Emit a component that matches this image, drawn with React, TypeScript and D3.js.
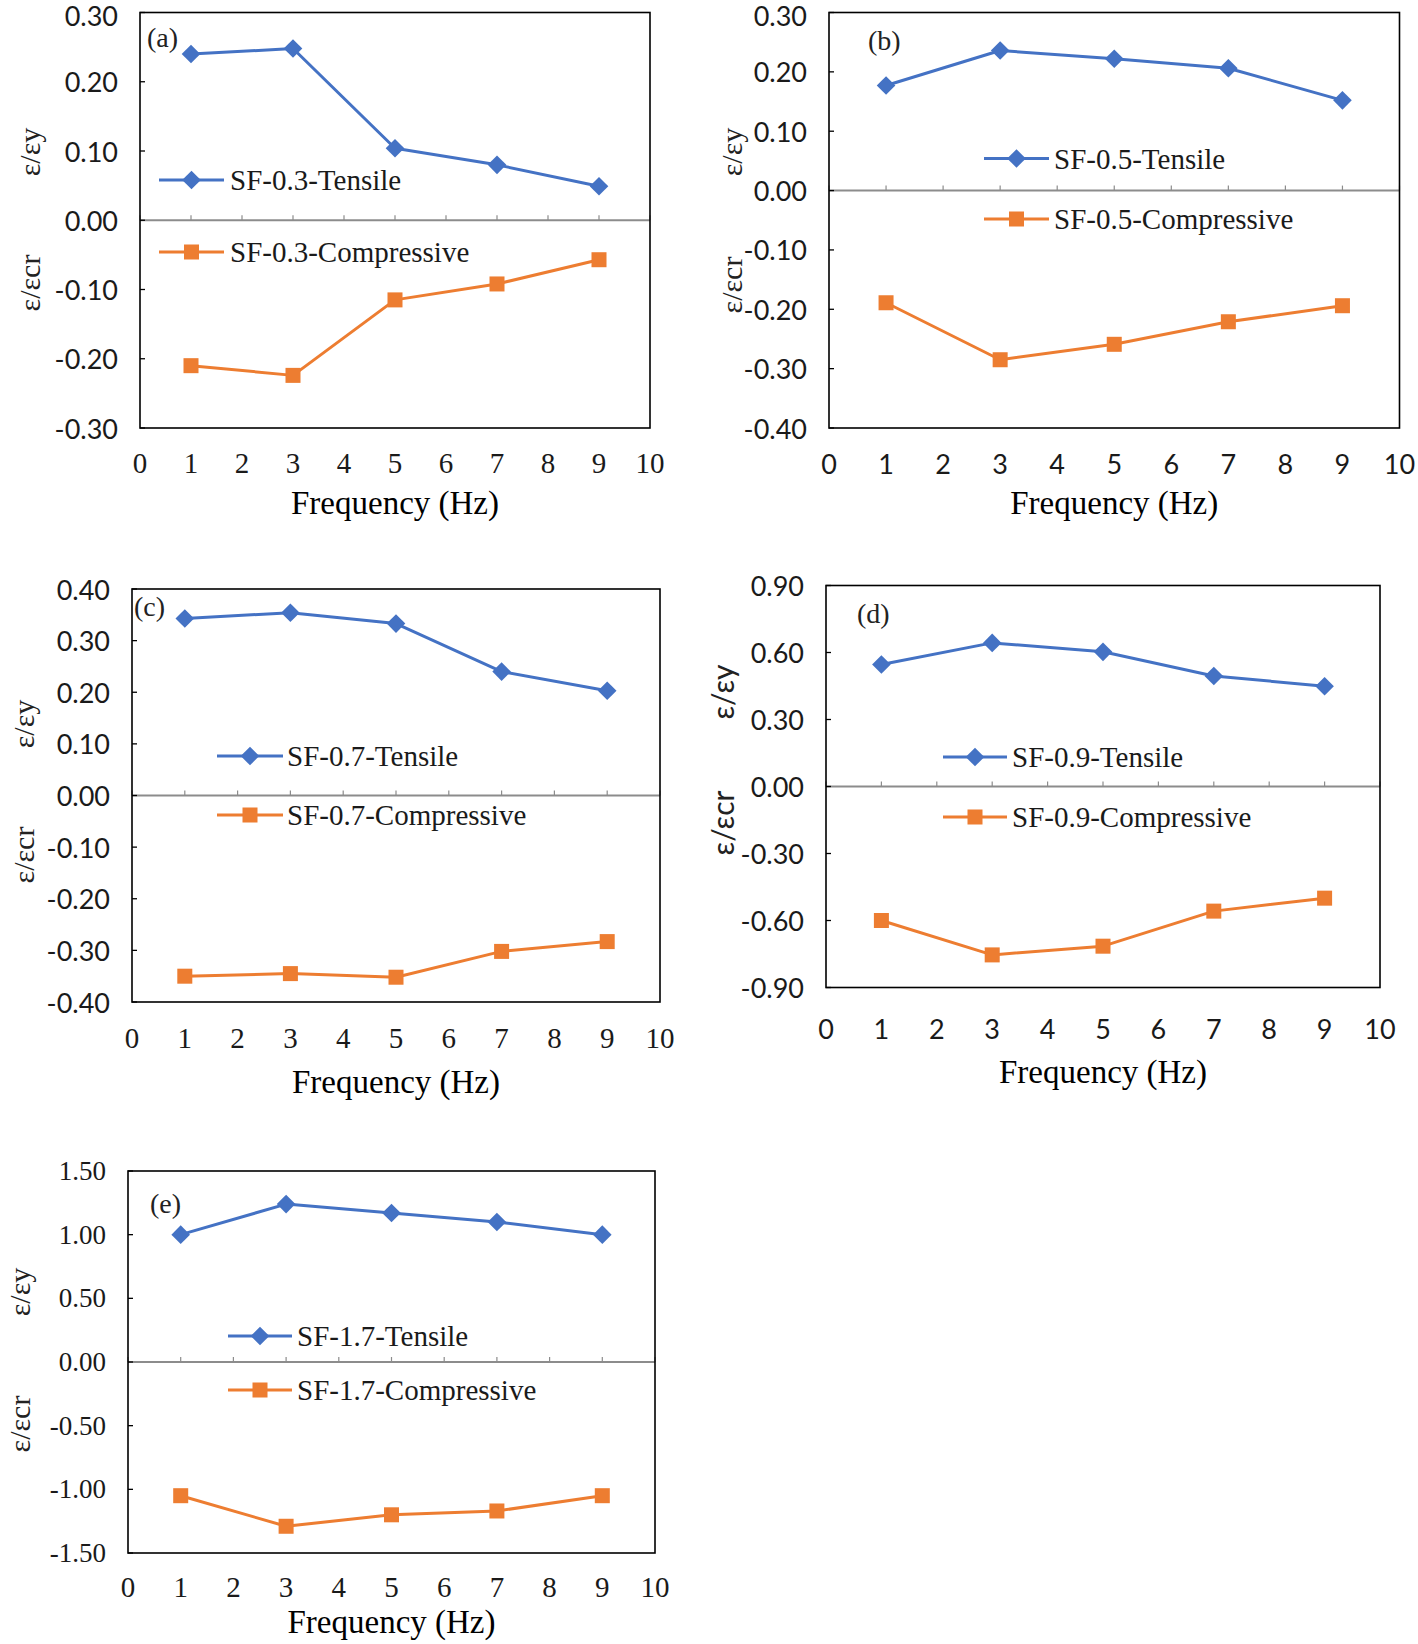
import React from "react";
import * as d3 from "d3";

// ---------- data ----------
const frequencies = [1, 3, 5, 7, 9];
const xTickValues = [0, 1, 2, 3, 4, 5, 6, 7, 8, 9, 10];

const tensileA = [0.24, 0.248, 0.104, 0.08, 0.049];
const compressiveA = [-0.21, -0.224, -0.115, -0.092, -0.057];
const tensileB = [0.177, 0.236, 0.222, 0.206, 0.152];
const compressiveB = [-0.189, -0.285, -0.259, -0.221, -0.194];
const tensileC = [0.343, 0.354, 0.333, 0.24, 0.203];
const compressiveC = [-0.35, -0.345, -0.352, -0.302, -0.283];
const tensileD = [0.546, 0.643, 0.603, 0.495, 0.449];
const compressiveD = [-0.6, -0.754, -0.715, -0.558, -0.5];
const tensileE = [1.0, 1.24, 1.17, 1.1, 1.0];
const compressiveE = [-1.05, -1.29, -1.2, -1.17, -1.05];

const yTicksA = [0.3, 0.2, 0.1, 0, -0.1, -0.2, -0.3];
const yTicksB = [0.3, 0.2, 0.1, 0, -0.1, -0.2, -0.3, -0.4];
const yTicksC = [0.4, 0.3, 0.2, 0.1, 0, -0.1, -0.2, -0.3, -0.4];
const yTicksD = [0.9, 0.6, 0.3, 0, -0.3, -0.6, -0.9];
const yTicksE = [1.5, 1.0, 0.5, 0, -0.5, -1.0, -1.5];

const panelTags = ["(a)", "(b)", "(c)", "(d)", "(e)"];
const seriesNamesTensile = ["SF-0.3-Tensile", "SF-0.5-Tensile", "SF-0.7-Tensile", "SF-0.9-Tensile", "SF-1.7-Tensile"];
const seriesNamesCompressive = [
  "SF-0.3-Compressive",
  "SF-0.5-Compressive",
  "SF-0.7-Compressive",
  "SF-0.9-Compressive",
  "SF-1.7-Compressive",
];
const xAxisTitle = "Frequency (Hz)";
const yTitleTop = "ε/εy";
const yTitleBottom = "ε/εcr";

// ---------- layout ----------
const SERIF = "'Liberation Serif', 'Times New Roman', serif";
const SANS = "Lato, 'Open Sans', sans-serif";
const BLUE = "#4472C4";
const ORANGE = "#ED7D31";

type Layout = {
  left: number;
  right: number;
  top: number;
  bottom: number;
  yLabelX: number;
  yTopLabelY: number;
  yBotLabelY: number;
  xTickY: number;
  xTitleY: number;
  tagX: number;
  tagY: number;
  legX0: number;
  legX1: number;
  legTextX: number;
  legY1: number;
  legY2: number;
  yFont: string;
  xFont: string;
  titleFont: string;
};

const layouts: Layout[] = [
  { left: 140, right: 650, top: 12.5, bottom: 428, yLabelX: 29, yTopLabelY: 152, yBotLabelY: 283, xTickY: 463, xTitleY: 503, tagX: 147, tagY: 37, legX0: 159, legX1: 224, legTextX: 230, legY1: 180, legY2: 252, yFont: SANS, xFont: SERIF, titleFont: SERIF },
  { left: 829, right: 1399.5, top: 12.5, bottom: 428, yLabelX: 731, yTopLabelY: 152, yBotLabelY: 285, xTickY: 463, xTitleY: 503, tagX: 868, tagY: 40, legX0: 984, legX1: 1049, legTextX: 1054, legY1: 158.5, legY2: 219, yFont: SANS, xFont: SANS, titleFont: SERIF },
  { left: 132, right: 660, top: 589, bottom: 1002, yLabelX: 23, yTopLabelY: 724, yBotLabelY: 855, xTickY: 1038, xTitleY: 1082, tagX: 134, tagY: 606, legX0: 217, legX1: 283, legTextX: 287, legY1: 756, legY2: 815, yFont: SANS, xFont: SERIF, titleFont: SERIF },
  { left: 826, right: 1380, top: 585.5, bottom: 987.5, yLabelX: 722, yTopLabelY: 692, yBotLabelY: 823, xTickY: 1028, xTitleY: 1072, tagX: 857, tagY: 613, legX0: 943, legX1: 1007, legTextX: 1012, legY1: 757, legY2: 817, yFont: SANS, xFont: SANS, titleFont: SANS },
  { left: 128, right: 655, top: 1171, bottom: 1553, yLabelX: 19, yTopLabelY: 1292, yBotLabelY: 1424, xTickY: 1587, xTitleY: 1622, tagX: 150, tagY: 1203, legX0: 228, legX1: 292, legTextX: 297, legY1: 1336, legY2: 1390, yFont: SERIF, xFont: SERIF, titleFont: SERIF },
];

const tensileSets = [tensileA, tensileB, tensileC, tensileD, tensileE];
const compressiveSets = [compressiveA, compressiveB, compressiveC, compressiveD, compressiveE];
const yTickSets = [yTicksA, yTicksB, yTicksC, yTicksD, yTicksE];

const fmt = (v: number) => {
  const s = d3.format(".2f")(Math.abs(v) < 1e-9 ? 0 : v);
  return s.replace("−", "-");
};

function Diamond({ x, y, r, color }: { x: number; y: number; r: number; color: string }) {
  const sym = d3.symbol().type(d3.symbolDiamond2).size(r * r * 2)();
  return <path d={sym || ""} transform={`translate(${x},${y})`} fill={color} />;
}

function Square({ x, y, s, color }: { x: number; y: number; s: number; color: string }) {
  return <rect x={x - s / 2} y={y - s / 2} width={s} height={s} fill={color} />;
}

function Panel({ i }: { i: number }) {
  const L = layouts[i];
  const ticks = yTickSets[i];
  const yMax = d3.max(ticks) as number;
  const yMin = d3.min(ticks) as number;
  const x = d3.scaleLinear().domain([0, 10]).range([L.left, L.right]);
  const y = d3.scaleLinear().domain([yMin, yMax]).range([L.bottom, L.top]);
  const line = d3
    .line<[number, number]>()
    .x((d) => x(d[0]))
    .y((d) => y(d[1]));
  const tPts: [number, number][] = frequencies.map((f, k) => [f, tensileSets[i][k]]);
  const cPts: [number, number][] = frequencies.map((f, k) => [f, compressiveSets[i][k]]);
  const y0 = y(0);
  const cx = (L.left + L.right) / 2;

  return (
    <g>
      {/* zero axis */}
      <line x1={L.left} x2={L.right} y1={y0} y2={y0} stroke="#8c8c8c" strokeWidth={2} />
      {xTickValues.map((t) => (
        <line key={"zt" + t} x1={x(t)} x2={x(t)} y1={y0} y2={y0 - 5} stroke="#8c8c8c" strokeWidth={1.2} />
      ))}
      {/* left ticks */}
      {ticks.map((t) => (
        <line key={"yt" + t} x1={L.left} x2={L.left + 5} y1={y(t)} y2={y(t)} stroke="#000" strokeWidth={1.3} />
      ))}
      {/* frame */}
      <rect x={L.left} y={L.top} width={L.right - L.left} height={L.bottom - L.top} fill="none" stroke="#000" strokeWidth={1.6} />
      {/* y tick labels */}
      {ticks.map((t) => (
        <text
          key={"yl" + t}
          x={L.left - 22}
          y={Math.max(y(t), 15)}
          textAnchor="end"
          dominantBaseline="central"
          fontFamily={L.yFont}
          fontSize={27}
          fill="#1a1a1a"
        >
          {fmt(t)}
        </text>
      ))}
      {/* x tick labels */}
      {xTickValues.map((t) => (
        <text
          key={"xl" + t}
          x={x(t)}
          y={L.xTickY}
          textAnchor="middle"
          dominantBaseline="central"
          fontFamily={L.xFont}
          fontSize={L.xFont === SERIF ? 29 : 27}
          fill="#1a1a1a"
        >
          {t}
        </text>
      ))}
      {/* x title */}
      <text x={cx} y={L.xTitleY} textAnchor="middle" dominantBaseline="central" fontFamily={SERIF} fontSize={33} fill="#000">
        {xAxisTitle}
      </text>
      {/* y titles */}
      <text
        transform={`translate(${L.yLabelX},${L.yTopLabelY}) rotate(-90)`}
        textAnchor="middle"
        dominantBaseline="central"
        fontFamily={L.titleFont}
        fontSize={30}
        fill="#222"
      >
        {yTitleTop}
      </text>
      <text
        transform={`translate(${L.yLabelX},${L.yBotLabelY}) rotate(-90)`}
        textAnchor="middle"
        dominantBaseline="central"
        fontFamily={L.titleFont}
        fontSize={30}
        fill="#222"
      >
        {yTitleBottom}
      </text>
      {/* panel tag */}
      <text x={L.tagX} y={L.tagY} dominantBaseline="central" fontFamily={SERIF} fontSize={28} fill="#222">
        {panelTags[i]}
      </text>
      {/* series */}
      <path d={line(tPts) || ""} fill="none" stroke={BLUE} strokeWidth={3} strokeLinejoin="round" />
      <path d={line(cPts) || ""} fill="none" stroke={ORANGE} strokeWidth={3} strokeLinejoin="round" />
      {tPts.map((p, k) => (
        <Diamond key={"d" + k} x={x(p[0])} y={y(p[1])} r={10.5} color={BLUE} />
      ))}
      {cPts.map((p, k) => (
        <Square key={"s" + k} x={x(p[0])} y={y(p[1])} s={15} color={ORANGE} />
      ))}
      {/* legend */}
      <line x1={L.legX0} x2={L.legX1} y1={L.legY1} y2={L.legY1} stroke={BLUE} strokeWidth={3} />
      <Diamond x={(L.legX0 + L.legX1) / 2} y={L.legY1} r={10.5} color={BLUE} />
      <text x={L.legTextX} y={L.legY1} dominantBaseline="central" fontFamily={SERIF} fontSize={29} fill="#1a1a1a">
        {seriesNamesTensile[i]}
      </text>
      <line x1={L.legX0} x2={L.legX1} y1={L.legY2} y2={L.legY2} stroke={ORANGE} strokeWidth={3} />
      <Square x={(L.legX0 + L.legX1) / 2} y={L.legY2} s={15} color={ORANGE} />
      <text x={L.legTextX} y={L.legY2} dominantBaseline="central" fontFamily={SERIF} fontSize={29} fill="#1a1a1a">
        {seriesNamesCompressive[i]}
      </text>
    </g>
  );
}

export default function App() {
  return (
    <svg
      width={1418}
      height={1644}
      viewBox="0 0 1418 1644"
      style={{ position: "absolute", left: 0, top: 0, background: "#fff" }}
    >
      <rect x={0} y={0} width={1418} height={1644} fill="#fff" />
      {layouts.map((_, i) => (
        <Panel key={i} i={i} />
      ))}
    </svg>
  );
}
